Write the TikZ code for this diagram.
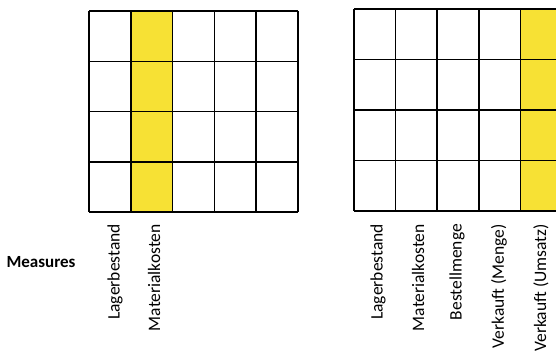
\documentclass[tikz,border=0pt]{standalone}
\usepackage{fontspec}
\setmainfont{Carlito}
\definecolor{hilite}{RGB}{247,225,52}

\tikzset{
  cell/.style={draw=black, line width=1.5pt},
  measure/.style={rotate=90, anchor=east, inner sep=0pt, font=\fontsize{17.5}{20}\selectfont},
}

\begin{document}
\begin{tikzpicture}[x=1pt, y=-1pt]
  \useasboundingbox (0,0) rectangle (556,351);

  % left cube: only one measure used
  \fill[hilite] (130.8,11) rectangle (172.6,212);
  \foreach \i in {0,...,5}
    \draw[cell] ({89+\i*41.8},11) -- ({89+\i*41.8},212);
  \foreach \j in {0,...,4}
    \draw[cell] (89,{11+\j*50.25}) -- (298,{11+\j*50.25});

  % right cube: last measure used
  \fill[hilite] (520.4,9) rectangle (562,211);
  \foreach \i in {0,...,5}
    \draw[cell] ({354+\i*41.6},9) -- ({354+\i*41.6},211);
  \foreach \j in {0,...,4}
    \draw[cell] (354,{9+\j*50.5}) -- (562,{9+\j*50.5});

  \node[font=\fontsize{17}{20}\selectfont\bfseries] (meas) at (41,262) {Measures};

  \node[measure] (l1) at (115,224) {Lagerbestand};
  \node[measure] (l2) at (154,224) {Materialkosten};

  \node[measure] (r1) at (378,224) {Lagerbestand};
  \node[measure] (r2) at (418,224) {Materialkosten};
  \node[measure] (r3) at (457,224) {Bestellmenge};
  \node[measure] (r4) at (499,224) {Verkauft (Menge)};
  \node[measure] (r5) at (541,224) {Verkauft (Umsatz)};
\end{tikzpicture}
\end{document}
